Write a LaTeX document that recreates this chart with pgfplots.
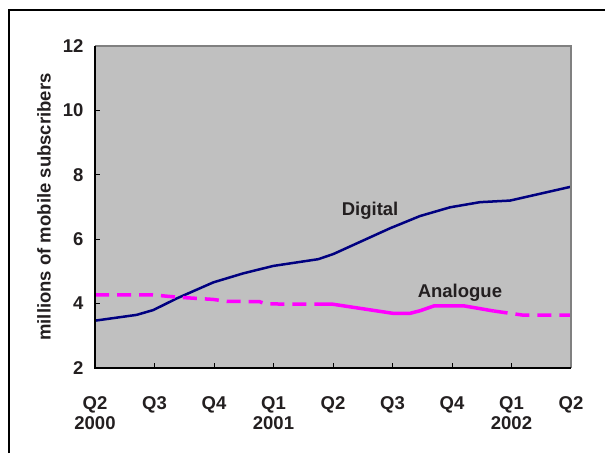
\documentclass[border=0pt]{standalone}
\usepackage{fontspec}
\setmainfont{Liberation Sans}
\usepackage{pgfplots}
\pgfplotsset{compat=1.18}
\definecolor{plotbg}{HTML}{C0C0C0}
\definecolor{txt}{HTML}{231F20}
\definecolor{digi}{HTML}{000080}
\definecolor{analog}{HTML}{FF00FF}
\definecolor{frameg}{HTML}{808080}
\begin{document}
\begin{tikzpicture}[x=1pt,y=1pt]
\useasboundingbox (0,0) rectangle (605,453);
\draw[black, line width=2.5pt] (9,0) -- (9,443) -- (606,443);
\begin{axis}[
  at={(95pt,85pt)}, anchor=south west,
  scale only axis, width=476pt, height=322pt,
  xmin=0, xmax=24, ymin=2, ymax=12,
  axis background/.style={fill=plotbg},
  axis line style={draw=none},
  xtick={0,3,6,9,12,15,18,21,24},
  xticklabels={Q2\\2000,Q3,Q4,Q1\\2001,Q2,Q3,Q4,Q1\\2002,Q2},
  ytick={2,4,6,8,10,12},
  tick align=inside, xtick pos=bottom, ytick pos=left,
  major tick length=5pt,
  tick style={black, line width=1pt},
  /pgf/number format/assume math mode=true,
  tick label style={font=\fontsize{18.5}{20}\selectfont\bfseries, text=txt},
  xticklabel style={align=center, yshift=-25pt},
  yticklabel style={xshift=-8pt},
  ylabel={millions of mobile subscribers},
  every axis y label/.style={at={(rel axis cs:0,0.5)}, xshift=-51pt, rotate=90, anchor=center, font=\fontsize{18.5}{20}\selectfont\bfseries, text=txt},
  clip=false,
]
\addplot[digi, line width=2.5pt, line join=round] coordinates {
(0,3.47) (2.1,3.65) (2.94,3.80) (4.12,4.16) (5.97,4.66) (7.48,4.94)
(8.99,5.17) (11.26,5.38) (12.02,5.54) (14.88,6.34) (16.39,6.72)
(17.9,6.99) (19.41,7.15) (20.93,7.20) (24,7.63)};
\addplot[analog, line width=3.5pt, dash pattern=on 14pt off 8pt] coordinates {
(0,4.27) (2.92,4.27) (4.14,4.20) (5.95,4.13) (6.66,4.07) (8.3,4.06) (8.6,3.99) (11.2,3.98)};
\addplot[analog, line width=3.5pt, line join=round] coordinates {
(11.2,3.98) (12.0,3.98) (15.0,3.70) (15.9,3.70) (16.4,3.78) (17.1,3.93) (18.6,3.93) (20.1,3.77)};
\addplot[analog, line width=3.5pt, dash pattern=on 14pt off 8pt] coordinates {
(20.1,3.77) (21.6,3.64) (24,3.64)};
\node[font=\fontsize{18.5}{20}\selectfont\bfseries, text=txt] at (axis cs:13.87,6.88) {Digital};
\node[font=\fontsize{18.5}{20}\selectfont\bfseries, text=txt] at (axis cs:18.4,4.33) {Analogue};
\draw[frameg, line width=2pt] (rel axis cs:0,1) -- (rel axis cs:1,1) -- (rel axis cs:1,0);
\draw[black, line width=1.5pt] (rel axis cs:0,1) -- (rel axis cs:0,0) -- (rel axis cs:1,0);
\end{axis}
\end{tikzpicture}
\end{document}
